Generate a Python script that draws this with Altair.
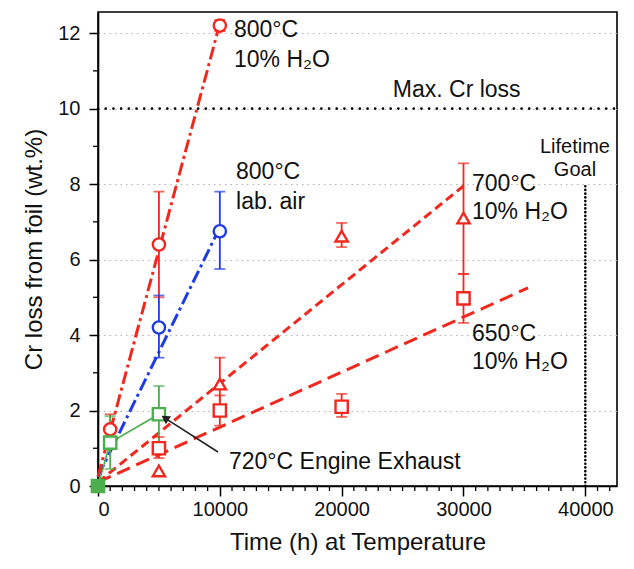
import altair as alt
import pandas as pd

FONT = "Liberation Sans"
RED = "#f0281e"
BLUE = "#1e3ce6"
GREEN = "#4cae4c"

# ---- measured points (time h, Cr loss wt.%, error low, error high) ----
w800_t = [1000, 5000, 10000]
w800_v = [1.5, 6.4, 12.2]
w800_lo = [1.1, 5.0, 12.05]
w800_hi = [1.9, 7.8, 12.35]

a800_t = [5000, 10000]
a800_v = [4.2, 6.75]
a800_lo = [3.4, 5.75]
a800_hi = [5.05, 7.8]

w700_t = [5000, 10000, 20000, 30000]
w700_v = [0.4, 2.7, 6.62, 7.1]
w700_lo = [0.4, 2.1, 6.33, 5.62]
w700_hi = [0.4, 3.4, 6.97, 8.55]

w650_t = [5000, 10000, 20000, 30000]
w650_v = [1.0, 2.0, 2.1, 4.97]
w650_lo = [0.74, 1.6, 1.83, 4.32]
w650_hi = [1.3, 2.4, 2.44, 5.62]

eng_t = [0, 1000, 5000]
eng_v = [0.0, 1.15, 1.9]
eng_lo = [0.0, 0.45, 1.1]
eng_hi = [0.0, 1.85, 2.65]

# ---- fitted trend lines (end points) ----
fit_w800_t = [0, 10000]
fit_w800_v = [0.25, 12.25]
fit_a800_t = [0, 10000]
fit_a800_v = [0.25, 6.85]
fit_w700_t = [0, 30000]
fit_w700_v = [0.1, 7.95]
fit_w650_t = [0, 35300]
fit_w650_v = [0.1, 5.25]

# ---- limits ----
max_cr_loss = 10
lifetime_goal_t = 40000
lifetime_goal_top = 8

# ---- tick values ----
x_major = [0, 10000, 20000, 30000, 40000]
x_minor = [v for v in range(1000, 43000, 1000) if v % 10000 != 0]
y_major = [0, 2, 4, 6, 8, 10, 12]
y_minor = [1, 3, 5, 7, 9, 11]

# ---- annotations ----
ann_label = ["800°C", "10% H₂O", "Max. Cr loss", "800°C", "lab. air", "700°C", "10% H₂O",
             "650°C", "10% H₂O", "720°C Engine Exhaust"]
ann_t = [11160, 11160, 24200, 11330, 11330, 30700, 30700, 30700, 30700, 10750]
ann_v = [12.08, 11.29, 10.49, 8.32, 7.53, 8.0, 7.26, 4.03, 3.29, 0.64]
goal_label = ["Lifetime", "Goal"]
goal_t = [39150, 39150]
goal_v = [8.98, 8.37]
arrow_t = [9850, 5500]
arrow_v = [0.90, 1.80]

xs = alt.Scale(domain=[0, 42600], nice=False, zero=False)
ys = alt.Scale(domain=[0, 12.56], nice=False, zero=False)
common = dict(labelFont=FONT, labelFontSize=20, titleFont=FONT, titleFontSize=24,
              titleFontWeight="normal", domainColor="black", domainWidth=1.6, tickColor="black",
              labelColor="#111111", titleColor="#111111", tickWidth=1.5)
xaxis = alt.Axis(values=x_major, format="d", title="Time (h) at Temperature", grid=False,
                 tickSize=10, labelPadding=3, titlePadding=11, **common)
yaxis = alt.Axis(values=y_major, title="Cr loss from foil (wt.%)", grid=True,
                 gridDash=[1.5, 4], gridColor="#b4b4b4", gridWidth=1.2,
                 tickSize=9, labelPadding=9, titlePadding=11, **common)


def X(field):
    return alt.X(field, type="quantitative", scale=xs, axis=xaxis)


def Y(field):
    return alt.Y(field, type="quantitative", scale=ys, axis=yaxis)


def pts(name, t, v, lo, hi):
    return pd.DataFrame({"t": t, "v": v, "lo": lo, "hi": hi, "s": name})


ser_names = ["w800", "a800", "w700", "w650", "eng"]
ser_colors = [RED, BLUE, RED, RED, GREEN]
ser_shapes = ["circle", "circle", "triangle-up", "square", "square"]
ser_sizes = [150, 150, 130, 150, 150]

pts_df = pd.concat([
    pts("w800", w800_t, w800_v, w800_lo, w800_hi),
    pts("a800", a800_t, a800_v, a800_lo, a800_hi),
    pts("w700", w700_t, w700_v, w700_lo, w700_hi),
    pts("w650", w650_t, w650_v, w650_lo, w650_hi),
    pts("eng", eng_t, eng_v, eng_lo, eng_hi),
], ignore_index=True)

color = alt.Color("s:N", scale=alt.Scale(domain=ser_names, range=ser_colors), legend=None)
shape = alt.Shape("s:N", scale=alt.Scale(domain=ser_names, range=ser_shapes), legend=None)
size = alt.Size("s:N", scale=alt.Scale(domain=ser_names, range=ser_sizes), legend=None)

layers = []

# grid/axes base layer
layers.append(alt.Chart(pts_df).mark_point(opacity=0).encode(x=X("t"), y=Y("v")))

# limit lines
lim_df = pd.DataFrame({"t": [0], "t2": [42600], "v": [max_cr_loss]})
layers.append(alt.Chart(lim_df).mark_rule(color="black", strokeWidth=2.6, strokeDash=[0.1, 7.6],
                                          strokeCap="round").encode(x=X("t"), x2="t2", y=Y("v")))
goal_df = pd.DataFrame({"t": [lifetime_goal_t], "v": [0], "v2": [lifetime_goal_top]})
layers.append(alt.Chart(goal_df).mark_rule(color="black", strokeWidth=2.6, strokeDash=[0.1, 3.6],
                                           strokeCap="round").encode(x=X("t"), y=Y("v"), y2="v2"))

# fitted lines
def fit(t, v, c, dash):
    df = pd.DataFrame({"t": t, "v": v})
    return alt.Chart(df).mark_line(color=c, strokeWidth=3, strokeDash=dash).encode(x=X("t"), y=Y("v"))

layers.append(fit(fit_w650_t, fit_w650_v, RED, [14, 7]))
layers.append(fit(fit_w700_t, fit_w700_v, RED, [9, 5]))
layers.append(fit(fit_a800_t, fit_a800_v, BLUE, [13, 4, 3, 4]))
layers.append(fit(fit_w800_t, fit_w800_v, RED, [13, 4, 3, 4]))

# engine exhaust connecting line
eng_df = pd.DataFrame({"t": eng_t, "v": eng_v})
layers.append(alt.Chart(eng_df).mark_line(color=GREEN, strokeWidth=1.6).encode(x=X("t"), y=Y("v")))

# error bars
err_df = pts_df[pts_df["hi"] > pts_df["lo"]]
layers.append(alt.Chart(err_df).mark_rule(strokeWidth=1.8).encode(x=X("t"), y=Y("lo"), y2="hi", color=color))
layers.append(alt.Chart(err_df).mark_tick(orient="horizontal", size=11, thickness=1.8).encode(
    x=X("t"), y=Y("lo"), color=color))
layers.append(alt.Chart(err_df).mark_tick(orient="horizontal", size=11, thickness=1.8).encode(
    x=X("t"), y=Y("hi"), color=color))

# markers
layers.append(alt.Chart(pts_df).mark_point(filled=False, fill="white", fillOpacity=1, strokeWidth=2.4,
                                           opacity=1).encode(
    x=X("t"), y=Y("v"), color=color, shape=shape, size=size))
# green origin marker filled
layers.append(alt.Chart(pd.DataFrame({"t": [0], "v": [0]})).mark_point(
    shape="square", filled=True, color=GREEN, size=150, opacity=1).encode(x=X("t"), y=Y("v")))

# minor ticks
xm_df = pd.DataFrame({"t": x_minor})
layers.append(alt.Chart(xm_df).mark_rule(color="black", strokeWidth=1.3).encode(
    x=X("t"), y=alt.value(474), y2=alt.value(479)))
ym_df = pd.DataFrame({"v": y_minor})
layers.append(alt.Chart(ym_df).mark_rule(color="black", strokeWidth=1.3).encode(
    y=Y("v"), x=alt.value(0), x2=alt.value(-5)))

# arrow
ar_df = pd.DataFrame({"t": arrow_t, "v": arrow_v})
layers.append(alt.Chart(ar_df).mark_line(color="#222222", strokeWidth=1.6).encode(x=X("t"), y=Y("v")))
layers.append(alt.Chart(ar_df.iloc[[1]]).mark_point(shape="triangle-up", filled=True, color="#222222",
                                                   size=90, angle=303, opacity=1).encode(x=X("t"), y=Y("v")))

# annotations
ann_df = pd.DataFrame({"t": ann_t, "v": ann_v, "label": ann_label})
layers.append(alt.Chart(ann_df).mark_text(align="left", baseline="middle", fontSize=23, font=FONT,
                                          color="#111111").encode(x=X("t"), y=Y("v"), text="label:N"))
goal_df2 = pd.DataFrame({"t": goal_t, "v": goal_v, "label": goal_label})
layers.append(alt.Chart(goal_df2).mark_text(align="center", baseline="middle", fontSize=20, font=FONT,
                                           color="#111111").encode(x=X("t"), y=Y("v"), text="label:N"))

chart = alt.layer(*layers).properties(
    width=519, height=474,
    autosize=alt.AutoSizeParams(type="none"),
    padding={"left": 90, "top": 4, "right": 9, "bottom": 75},
    background="white",
).configure_view(stroke="black", strokeWidth=1.6)

chart.save("out.html", embed_options={"renderer": "svg", "actions": False})
